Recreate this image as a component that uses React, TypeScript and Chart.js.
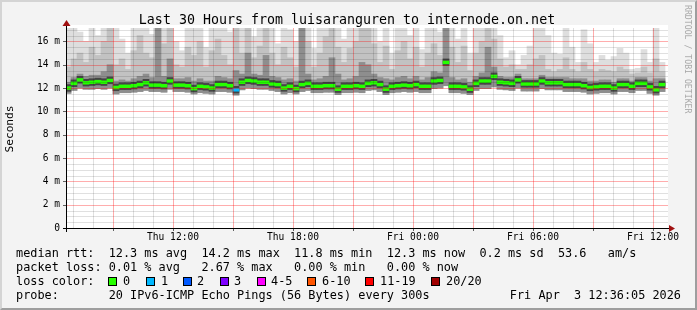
import React, { useEffect, useRef } from 'react';
import { Chart, registerables } from 'chart.js';

Chart.register(...registerables);

// ---------------- texts ----------------
const TITLE = 'Last 30 Hours from luisaranguren to internode.on.net';
const Y_AXIS_TITLE = 'Seconds';
const WATERMARK = 'RRDTOOL / TOBI OETIKER';

// ---------------- time axis (hours since Thu 00:00) ----------------
const X_MIN = 6.7;
const X_MAX = 36.7;
const SERIES_START = 6.6; // Thu 06:36
const STEP_HOURS = 0.3;
const gridHours = [7, 8, 9, 10, 11, 12, 13, 14, 15, 16, 17, 18, 19, 20, 21, 22, 23, 24, 25, 26, 27, 28, 29, 30, 31, 32, 33, 34, 35, 36];
const labelHours = [12, 18, 24, 30, 36];
const labelTexts = ['Thu 12:00', 'Thu 18:00', 'Fri 00:00', 'Fri 06:00', 'Fri 12:00'];

// ---------------- value axis (ms) ----------------
const Y_MAX = 17.15;
const yGridValues = [0, 0.5, 1, 1.5, 2, 2.5, 3, 3.5, 4, 4.5, 5, 5.5, 6, 6.5, 7, 7.5, 8, 8.5, 9, 9.5, 10, 10.5, 11, 11.5, 12, 12.5, 13, 13.5, 14, 14.5, 15, 15.5, 16, 16.5, 17];
const yLabelValues = [0, 2, 4, 6, 8, 10, 12, 14, 16];
const yLabelTexts = ['0', '2 m', '4 m', '6 m', '8 m', '10 m', '12 m', '14 m', '16 m'];

// ---------------- series (ms), one value per 18-minute bin ----------------
const median = [
  12.0, 12.4, 12.7, 12.45, 12.5, 12.55, 12.5, 12.65, 12.05, 12.15,
  12.15, 12.2, 12.3, 12.45, 12.25, 12.25, 12.2, 12.6, 12.25, 12.25,
  12.2, 11.95, 12.15, 12.1, 12.0, 12.3, 12.3, 12.2, 11.85, 12.5,
  12.65, 12.6, 12.5, 12.5, 12.35, 12.3, 12.0, 12.15, 11.95, 12.3,
  12.4, 12.15, 12.15, 12.2, 12.2, 11.9, 12.15, 12.15, 12.2, 12.15,
  12.4, 12.45, 12.3, 11.9, 12.15, 12.2, 12.25, 12.2, 12.3, 12.15,
  12.15, 12.6, 12.65, 14.2, 12.15, 12.15, 12.1, 11.9, 12.4, 12.6,
  12.6, 13.0, 12.5, 12.45, 12.4, 12.7, 12.35, 12.35, 12.35, 12.6,
  12.45, 12.45, 12.45, 12.3, 12.3, 12.3, 12.2, 12.05, 12.1, 12.15,
  12.15, 12.0, 12.3, 12.3, 12.15, 12.4, 12.4, 12.1, 11.85, 12.3,
];
const smokeLow = [
  11.55, 11.8, 12.0, 11.9, 11.9, 11.95, 11.9, 12.0, 11.5, 11.6,
  11.6, 11.65, 11.7, 11.8, 11.7, 11.7, 11.65, 11.9, 11.7, 11.7,
  11.65, 11.5, 11.6, 11.55, 11.5, 11.7, 11.7, 11.65, 11.4, 11.85,
  12.0, 11.95, 11.9, 11.9, 11.8, 11.7, 11.5, 11.6, 11.5, 11.7,
  11.8, 11.6, 11.6, 11.65, 11.65, 11.45, 11.6, 11.6, 11.65, 11.6,
  11.8, 11.85, 11.7, 11.45, 11.6, 11.65, 11.7, 11.65, 11.7, 11.6,
  11.6, 11.95, 12.0, 12.2, 11.6, 11.6, 11.55, 11.45, 11.8, 11.95,
  11.95, 12.1, 11.9, 11.85, 11.8, 12.0, 11.75, 11.75, 11.75, 11.95,
  11.85, 11.85, 11.85, 11.7, 11.7, 11.7, 11.65, 11.5, 11.55, 11.6,
  11.6, 11.5, 11.7, 11.7, 11.6, 11.8, 11.8, 11.55, 11.4, 11.7,
];
const smokeDark = [
  12.5, 12.9, 13.2, 13.0, 13.1, 13.1, 13.4, 14.0, 12.6, 12.7,
  12.6, 12.8, 13.0, 13.2, 12.9, 17.3, 13.0, 14.5, 12.8, 12.8,
  12.9, 12.6, 12.8, 12.6, 12.6, 13.0, 12.9, 12.8, 13.5, 13.2,
  15.0, 13.2, 13.1, 14.8, 13.0, 12.9, 12.7, 12.8, 12.6, 17.3,
  13.2, 12.7, 12.8, 13.0, 14.6, 13.2, 12.7, 12.8, 13.0, 14.2,
  14.0, 13.2, 12.9, 12.8, 12.7, 12.9, 13.0, 12.8, 13.0, 12.7,
  12.9, 13.4, 13.3, 17.3, 12.9, 12.7, 12.8, 12.5, 13.0, 13.3,
  15.5, 13.8, 13.0, 12.9, 12.9, 13.2, 12.8, 12.8, 12.8, 13.1,
  12.9, 12.9, 12.9, 12.9, 12.8, 12.8, 12.8, 12.6, 12.6, 12.7,
  12.7, 12.5, 12.8, 12.8, 12.6, 12.9, 12.9, 12.6, 12.8, 12.8,
];
const smokeMid = [
  13.8, 14.5, 15.0, 14.2, 15.5, 14.8, 16.0, 17.3, 14.0, 14.5,
  13.6, 15.2, 16.5, 15.0, 14.6, 17.3, 15.8, 17.3, 14.0, 13.8,
  15.5, 14.8, 16.0, 13.8, 15.2, 16.2, 14.8, 14.0, 17.3, 15.0,
  17.3, 14.6, 15.6, 17.3, 15.0, 14.0, 15.5, 14.6, 13.8, 17.3,
  16.0, 13.8, 15.0, 16.4, 17.3, 15.5, 14.2, 15.4, 16.0, 17.3,
  17.3, 15.8, 14.2, 15.6, 13.6, 15.2, 16.0, 14.5, 15.5, 13.8,
  15.0, 15.8, 14.8, 17.3, 15.5, 14.2, 15.6, 13.5, 15.0, 16.0,
  17.3, 16.2, 14.5, 13.8, 14.0, 13.6, 13.6, 14.0, 14.5, 14.8,
  13.6, 13.4, 13.6, 14.6, 13.6, 13.4, 14.2, 13.6, 13.4, 13.6,
  13.5, 13.4, 13.8, 13.6, 13.2, 13.3, 13.8, 13.3, 14.5, 13.4,
];
const smokeMax = [
  17.3, 17.3, 16.8, 16.0, 17.3, 16.5, 17.3, 17.3, 17.3, 16.2,
  15.0, 17.3, 17.3, 17.3, 16.6, 17.3, 17.3, 17.3, 16.0, 15.2,
  17.3, 17.3, 17.3, 15.5, 17.3, 17.3, 17.3, 16.8, 17.3, 17.3,
  17.3, 16.4, 17.3, 17.3, 17.3, 15.8, 17.3, 17.0, 16.0, 17.3,
  17.3, 15.4, 17.3, 17.3, 17.3, 17.3, 16.2, 17.3, 17.3, 17.3,
  17.3, 17.3, 16.0, 17.3, 15.0, 17.3, 17.3, 16.5, 17.3, 15.3,
  17.3, 17.3, 16.8, 17.3, 17.3, 16.2, 17.3, 15.0, 17.3, 17.3,
  17.3, 17.3, 16.5, 14.6, 15.2, 14.0, 14.8, 15.6, 17.3, 17.3,
  16.5, 15.0, 14.9, 17.3, 15.5, 14.2, 17.0, 15.8, 14.2, 14.8,
  14.4, 14.7, 15.4, 15.0, 13.6, 13.7, 15.3, 14.2, 17.3, 14.2,
];
// lost pings (of 20) per bin
const lossCount = [
  0, 0, 0, 0, 0, 0, 0, 0, 0, 0,
  0, 0, 0, 0, 0, 0, 0, 0, 0, 0,
  0, 0, 0, 0, 0, 0, 0, 0, 1, 0,
  0, 0, 0, 0, 0, 0, 0, 0, 0, 0,
  0, 0, 0, 0, 0, 0, 0, 0, 0, 0,
  0, 0, 0, 0, 0, 0, 0, 0, 0, 0,
  0, 0, 0, 0, 0, 0, 0, 0, 0, 0,
  0, 0, 0, 0, 0, 0, 0, 0, 0, 0,
  0, 0, 0, 0, 0, 0, 0, 0, 0, 0,
  0, 0, 0, 0, 0, 0, 0, 0, 0, 0,
];

// ---------------- legend ----------------
const lossLegend = ['0', '1', '2', '3', '4-5', '6-10', '11-19', '20/20'];
const lossColors = ['#26ff00', '#00b8ff', '#0059ff', '#7e00ff', '#ff00ff', '#ff5500', '#ff0000', '#a00000'];
const rttRow = ['median rtt:', '12.3 ms avg', '14.2 ms max', '11.8 ms min', '12.3 ms now', '0.2 ms sd', '53.6', 'am/s'];
const lossRow = ['packet loss:', '0.01 % avg', '2.67 % max', '0.00 % min', '0.00 % now'];
const LOSS_COLOR_LABEL = 'loss color:';
const PROBE_LABEL = 'probe:';
const PROBE_TEXT = '20 IPv6-ICMP Echo Pings (56 Bytes) every 300s';
const DATE_TEXT = 'Fri Apr  3 12:36:05 2026';

// ---------------- layout (pixels / character columns) ----------------
const MONO = '"DejaVu Sans Mono", monospace';
const LEG_FS = 11.85;
const LEG_X0 = 16;
const LEG_ADV = 7.13;
const rttCols = [0, 13, 26, 39, 52, 65, 76, 83];
const lossCols = [0, 13, 26, 39, 52];
const lossBoxX = [108, 146, 183, 220, 257, 307, 365, 431];
const lossLabelX = [123, 161, 197, 234, 271, 322, 380, 446];
const rowBaselines = [257.7, 271.8, 285.9, 300];
const MEDIAN_HALF = 0.12;
const CORE_BELOW = 0.28;
const CORE_ABOVE = 0.3;

const GRID_MINOR = 'rgba(0,0,0,0.12)';
const GRID_MAJOR = 'rgba(255,0,0,0.32)';
const AXIS_COLOR = '#000000';
const TICK_COLOR = '#606060';
const ARROW_COLOR = '#a01010';

function lossColorIndex(n: number) {
  if (n <= 3) return n;
  if (n <= 5) return 4;
  if (n <= 10) return 5;
  if (n <= 19) return 6;
  return 7;
}

// grid, tick marks, axes and arrows, placed through the chart's scales
const rrdFrame = {
  id: 'rrdFrame',
  beforeDraw(chart: any) {
    const { ctx, chartArea } = chart;
    const { left, top, right, bottom } = chartArea;
    ctx.save();
    ctx.fillStyle = '#ffffff';
    ctx.fillRect(left, top - 3, right - left + 1, bottom - top + 3);
    ctx.restore();
  },
  afterDraw(chart: any) {
    const { ctx, chartArea, scales } = chart;
    const { left, top, right, bottom } = chartArea;
    const xs = scales.x;
    const ys = scales.y;
    const t = Math.round(top);
    const b = Math.round(bottom);
    const l = Math.round(left);
    const r = Math.round(right);
    ctx.save();
    for (const h of gridHours) {
      const px = Math.round(xs.getPixelForValue(h));
      ctx.fillStyle = h % 3 === 0 ? GRID_MAJOR : GRID_MINOR;
      ctx.fillRect(px, t, 1, b - t);
    }
    for (const v of yGridValues) {
      if (v === 0) continue;
      const py = Math.round(ys.getPixelForValue(v));
      ctx.fillStyle = v % 2 === 0 ? GRID_MAJOR : GRID_MINOR;
      ctx.fillRect(l, py, r - l + 1, 1);
    }
    ctx.fillStyle = TICK_COLOR;
    for (const h of gridHours) {
      if (h % 3 !== 0) continue;
      const px = Math.round(xs.getPixelForValue(h));
      ctx.fillRect(px, b, 1, 3);
    }
    for (const v of yGridValues) {
      if (v % 2 !== 0) continue;
      const py = Math.round(ys.getPixelForValue(v));
      ctx.fillRect(l - 4, py, 4, 1);
    }
    ctx.fillStyle = AXIS_COLOR;
    ctx.fillRect(l - 4, b, r - l + 8, 1);
    ctx.fillRect(l - 1, t - 3, 1, b - t + 7);
    ctx.fillStyle = ARROW_COLOR;
    ctx.beginPath();
    ctx.moveTo(r + 2, b - 3);
    ctx.lineTo(r + 8, b + 0.5);
    ctx.lineTo(r + 2, b + 4);
    ctx.closePath();
    ctx.fill();
    ctx.beginPath();
    ctx.moveTo(l - 4.5, t - 2);
    ctx.lineTo(l - 0.5, t - 8);
    ctx.lineTo(l + 3.5, t - 2);
    ctx.closePath();
    ctx.fill();
    ctx.restore();
  },
};

function Txt(props: { x: number; base: number; size: number; text: string; right?: boolean; color?: string }) {
  const { x, base, size, text, right, color } = props;
  const style: any = {
    position: 'absolute',
    top: base - 0.846 * size,
    fontFamily: MONO,
    fontSize: size,
    lineHeight: 1,
    whiteSpace: 'pre',
    color: color || '#000',
  };
  if (right) style.right = 697 - x;
  else style.left = x;
  return <span style={style}>{text}</span>;
}

const colX = (c: number) => LEG_X0 + c * LEG_ADV;

export default function App() {
  const ref = useRef<HTMLCanvasElement>(null);

  useEffect(() => {
    const canvas = ref.current;
    if (!canvas) return;
    const xs = median.map((_, i) => SERIES_START + STEP_HOURS * (i + 0.5));
    const band = (lo: number[], hi: number[]) => xs.map((x, i) => ({ x, y: [lo[i], hi[i]] }));
    const barCommon = {
      grouped: false,
      categoryPercentage: 1,
      barPercentage: 1,
      borderWidth: 0,
    };
    const chart = new Chart(canvas, {
      type: 'bar',
      data: {
        datasets: [
          { ...barCommon, label: 'smoke (all pings)', data: band(smokeLow, smokeMax), backgroundColor: '#dedede', order: 5 },
          { ...barCommon, label: 'smoke (inner)', data: band(smokeLow, smokeMid), backgroundColor: '#c2c2c2', order: 4 },
          { ...barCommon, label: 'smoke (dense)', data: band(smokeLow, smokeDark), backgroundColor: '#8e8e8e', order: 3 },
          {
            ...barCommon,
            label: 'smoke (core)',
            data: xs.map((x, i) => ({ x, y: [median[i] - CORE_BELOW, median[i] + CORE_ABOVE] })),
            backgroundColor: '#454545',
            order: 2,
          },
          {
            ...barCommon,
            label: 'median rtt',
            data: xs.map((x, i) => ({ x, y: [median[i] - MEDIAN_HALF, median[i] + MEDIAN_HALF] })),
            backgroundColor: lossCount.map((n) => lossColors[lossColorIndex(n)]),
            order: 1,
          },
        ] as any,
      },
      options: {
        responsive: false,
        animation: false,
        devicePixelRatio: 1,
        events: [],
        layout: { padding: { left: 0, right: 30, top: 28, bottom: 0 } },
        plugins: { legend: { display: false }, tooltip: { enabled: false }, title: { display: false } },
        scales: {
          x: {
            type: 'linear',
            min: X_MIN,
            max: X_MAX,
            offset: false,
            afterBuildTicks: (s: any) => {
              s.ticks = gridHours.map((v) => ({ value: v }));
            },
            afterFit: (s: any) => {
              s.height = 82;
              s.paddingLeft = 0;
              s.paddingRight = 0;
            },
            ticks: {
              autoSkip: false,
              maxRotation: 0,
              minRotation: 0,
              padding: 1,
              color: '#000',
              font: { family: MONO, size: 9.6 },
              callback: (v: any) => {
                const k = labelHours.indexOf(Number(v));
                return k >= 0 ? labelTexts[k] : '';
              },
            },
            grid: {
              offset: false,
              display: true,
              drawOnChartArea: false,
              drawTicks: true,
              tickLength: 3,
              tickColor: 'rgba(0,0,0,0)',
            },
            border: { display: false },
          },
          y: {
            type: 'linear',
            min: 0,
            max: Y_MAX,
            afterBuildTicks: (s: any) => {
              s.ticks = yGridValues.map((v) => ({ value: v }));
            },
            afterFit: (s: any) => {
              s.width = 67;
              s.paddingTop = 0;
              s.paddingBottom = 0;
            },
            ticks: {
              autoSkip: false,
              padding: 4,
              color: '#000',
              font: { family: MONO, size: 9.6 },
              callback: (v: any) => {
                const k = yLabelValues.indexOf(Number(v));
                return k >= 0 ? yLabelTexts[k] : '';
              },
            },
            grid: {
              display: true,
              drawOnChartArea: false,
              drawTicks: true,
              tickLength: 3,
              tickColor: 'rgba(0,0,0,0)',
            },
            border: { display: false },
          },
        },
      } as any,
      plugins: [rrdFrame],
    });
    return () => chart.destroy();
  }, []);

  return (
    <div
      style={{
        position: 'fixed',
        left: 0,
        top: 0,
        width: 697,
        height: 310,
        background: '#f3f3f3',
        overflow: 'hidden',
      }}
    >
      <canvas ref={ref} width={697} height={310} style={{ position: 'absolute', left: 0, top: 0 }} />
      <div
        style={{
          position: 'absolute',
          left: 0,
          width: 694,
          top: 24 - 0.846 * 13.3,
          textAlign: 'center',
          fontFamily: MONO,
          fontSize: 13.3,
          lineHeight: 1,
          whiteSpace: 'pre',
          color: '#000',
        }}
      >
        {TITLE}
      </div>
      <div
        style={{
          position: 'absolute',
          left: 10 - 40,
          top: 128.5 - 7,
          width: 80,
          height: 14,
          lineHeight: '14px',
          textAlign: 'center',
          fontFamily: MONO,
          fontSize: 11.2,
          color: '#000',
          transform: 'rotate(-90deg)',
        }}
      >
        {Y_AXIS_TITLE}
      </div>
      <div
        style={{
          position: 'absolute',
          left: 693,
          top: 5,
          transformOrigin: '0 0',
          transform: 'rotate(90deg)',
          fontFamily: MONO,
          fontSize: 8.2,
          lineHeight: '10px',
          whiteSpace: 'pre',
          color: '#a8a8a8',
        }}
      >
        {WATERMARK}
      </div>

      {rttRow.map((t, i) => (
        <Txt key={'r' + i} x={colX(rttCols[i])} base={rowBaselines[0]} size={LEG_FS} text={t} />
      ))}
      {lossRow.map((t, i) => (
        <Txt key={'l' + i} x={colX(lossCols[i])} base={rowBaselines[1]} size={LEG_FS} text={t} />
      ))}
      <Txt x={colX(0)} base={rowBaselines[2]} size={LEG_FS} text={LOSS_COLOR_LABEL} />
      {lossLegend.map((t, i) => (
        <React.Fragment key={'c' + i}>
          <span
            style={{
              position: 'absolute',
              left: lossBoxX[i],
              top: 277,
              width: 9,
              height: 9,
              boxSizing: 'border-box',
              border: '1px solid #000',
              background: lossColors[i],
            }}
          />
          <Txt x={lossLabelX[i]} base={rowBaselines[2]} size={LEG_FS} text={t} />
        </React.Fragment>
      ))}
      <Txt x={colX(0)} base={rowBaselines[3]} size={LEG_FS} text={PROBE_LABEL} />
      <Txt x={colX(13)} base={rowBaselines[3]} size={LEG_FS} text={PROBE_TEXT} />
      <Txt x={681} base={rowBaselines[3]} size={LEG_FS} text={DATE_TEXT} right />

      <div
        style={{
          position: 'absolute',
          left: 0,
          top: 0,
          width: 697,
          height: 310,
          boxSizing: 'border-box',
          borderTop: '2px solid #d4d4d4',
          borderLeft: '2px solid #d4d4d4',
          borderRight: '2px solid #9e9e9e',
          borderBottom: '2px solid #9e9e9e',
          pointerEvents: 'none',
        }}
      />
    </div>
  );
}
